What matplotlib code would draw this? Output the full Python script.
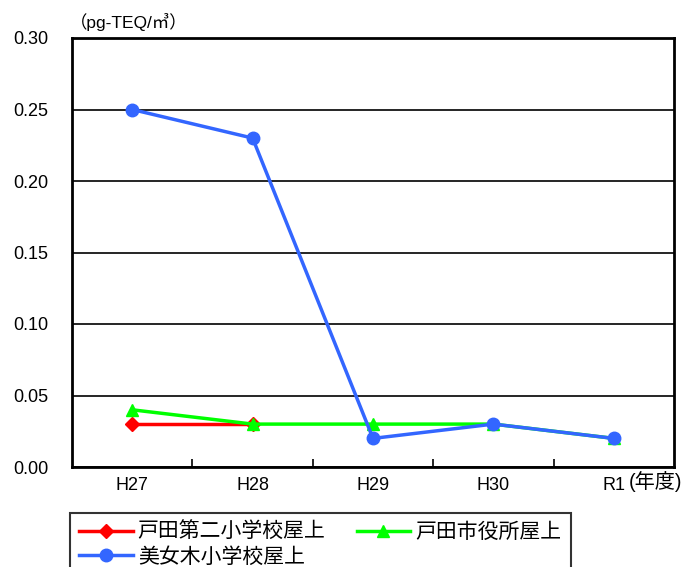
import matplotlib
matplotlib.use("Agg")
import matplotlib.pyplot as plt
from matplotlib.ticker import FixedLocator

plt.rcParams['font.family'] = ['Liberation Sans', 'Noto Sans CJK JP', 'DejaVu Sans']

categories = ["H27", "H28", "H29", "H30", "R1"]
toda2_school = [0.03, 0.03, None, None, None]
city_hall = [0.04, 0.03, 0.03, 0.03, 0.02]
bijogi_school = [0.25, 0.23, 0.02, 0.03, 0.02]
names = ["戸田第二小学校屋上", "戸田市役所屋上", "美女木小学校屋上"]
y_ticks = [0.00, 0.05, 0.10, 0.15, 0.20, 0.25, 0.30]

fig = plt.figure(figsize=(6.92, 5.67), dpi=100)
ax = fig.add_axes([72/692, 1 - 467/567, 602/692, 429/567])

x = list(range(len(categories)))
rx = [i for i, v in zip(x, toda2_school) if v is not None]
ry = [v for v in toda2_school if v is not None]
h1, = ax.plot(rx, ry, color="#ff0000", lw=2.5, marker="D", ms=7, label=names[0], zorder=3)
h2, = ax.plot(x, city_hall, color="#00ff00", lw=2.5, marker="^", ms=9, label=names[1], zorder=4)
h3, = ax.plot(x, bijogi_school, color="#3366ff", lw=2.5, marker="o", ms=9, label=names[2], zorder=5)

ax.set_xlim(-0.5, len(categories) - 0.5)
ax.set_ylim(0, 0.30)
ax.set_yticks(y_ticks)
ax.set_yticklabels([f"{v:.2f}" for v in y_ticks])
ax.yaxis.grid(True, color="black", lw=1.2)
ax.set_axisbelow(True)
ax.tick_params(axis="y", length=0, pad=17, labelsize=13)
ax.set_xticks(x)
ax.set_xticklabels(categories)
ax.tick_params(axis="x", which="major", length=0, pad=7, labelsize=13)
ax.xaxis.set_minor_locator(FixedLocator([i + 0.5 for i in x[:-1]]))
ax.tick_params(axis="x", which="minor", direction="in", length=6, width=1.2, color="black")
for s in ax.spines.values():
    s.set_linewidth(2)
    s.set_color("black")

fig.text(70/692, 1 - 22/567, "（pg-TEQ/㎥）", fontsize=12.5, va="center", ha="left")
fig.text(629/692, 1 - 482/567, "(年度)", fontsize=14.5, va="center", ha="left")

leg = fig.legend([h1, h3, h2], [names[0], names[2], names[1]],
                 loc="upper left", bbox_to_anchor=(70/692, 1 - 513/567), ncol=2,
                 frameon=True, fancybox=False, edgecolor="black", fontsize=15,
                 handlelength=2.55, handletextpad=0.25, borderaxespad=0,
                 columnspacing=1.5, labelspacing=0.22, borderpad=0.45)
leg.get_frame().set_linewidth(1.5)

fig.savefig("out.png", dpi=100)
